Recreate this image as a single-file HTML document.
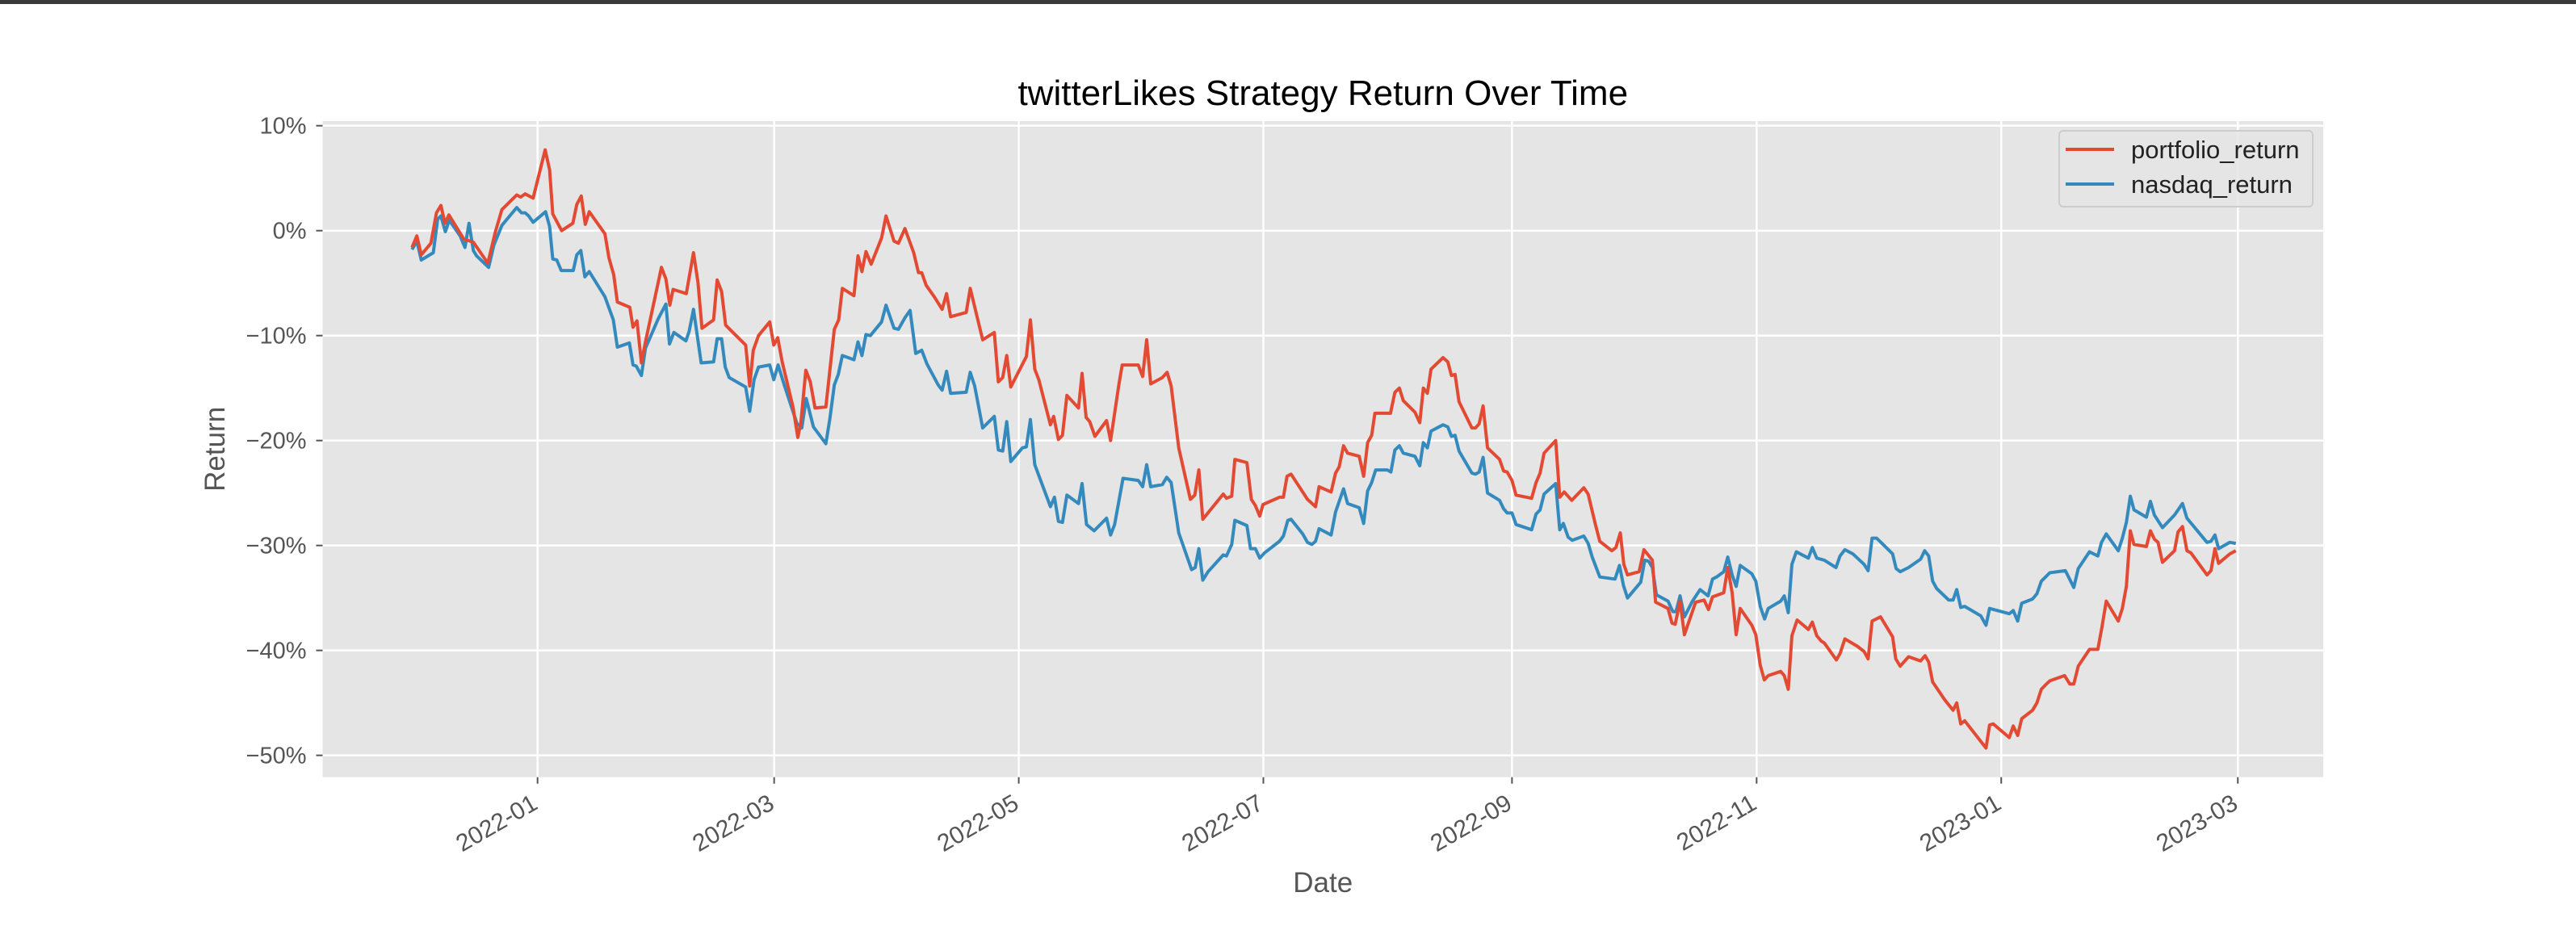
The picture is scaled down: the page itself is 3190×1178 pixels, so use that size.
<!DOCTYPE html>
<html><head><meta charset="utf-8"><style>
html,body{margin:0;padding:0;background:#fff;}
#wrap{position:relative;width:3190px;height:1178px;overflow:hidden;}
#topbar{position:absolute;left:0;top:0;width:3190px;height:5px;background:#3a3a3a;}
svg{position:absolute;left:0;top:0;}
text{font-family:"Liberation Sans",sans-serif;}
</style></head><body>
<div id="wrap">
<div id="topbar"></div>
<svg id="chart" width="3190" height="1178"></svg>
</div>
<script>
const xTickLabels = ["2022-01","2022-03","2022-05","2022-07","2022-09","2022-11","2023-01","2023-03"];
const xTickDays = [0,59,120,181,243,304,365,424];
const yTickValues = [10,0,-10,-20,-30,-40,-50];
const seriesNames = ["portfolio_return","nasdaq_return"];
const portfolioDays = [-31.3,-30.1,-29.0,-26.6,-25.2,-24.1,-23.1,-22.1,-18.4,-16.0,-12.4,-10.5,-8.9,-5.2,-4.2,-3.1,-1.1,1.9,3.0,3.8,6.0,8.8,9.8,10.9,11.9,12.9,16.8,17.8,19.0,19.9,23.0,23.8,24.8,25.9,26.9,30.9,32.0,33.0,33.8,37.1,38.9,40.0,41.0,43.9,44.8,45.9,46.9,48.2,51.9,52.9,53.8,55.1,57.9,58.9,59.9,61.0,63.7,64.9,65.7,66.9,68.0,69.2,71.9,74.0,75.1,76.0,78.9,79.9,80.9,81.9,83.2,85.8,86.9,88.9,90.0,91.6,93.8,95.0,95.8,96.9,99.1,100.9,102.0,103.0,106.9,107.9,109.8,111.0,113.9,114.9,116.0,117.0,118.0,121.9,122.9,124.0,125.0,127.9,128.7,129.9,130.9,132.0,134.9,135.8,136.8,137.7,139.0,141.9,142.9,145.0,145.8,149.8,150.9,151.9,152.9,155.8,157.0,158.0,159.9,162.8,163.9,164.9,165.9,171.0,171.8,173.1,173.9,176.9,178.0,179.0,180.1,180.9,185.0,186.0,186.9,187.9,192.0,194.0,194.9,197.9,199.0,199.9,201.0,202.0,204.9,206.0,207.0,208.0,208.8,212.7,213.8,214.9,215.9,218.8,220.0,220.9,221.9,222.8,225.8,227.0,227.9,228.8,229.8,233.0,233.9,234.8,235.8,236.9,239.9,240.9,241.8,243.0,244.0,247.9,249.0,250.0,251.0,253.9,254.9,256.0,257.9,260.9,262.0,263.8,264.9,267.9,268.9,270.0,270.9,271.8,274.7,275.9,278.0,278.8,281.9,282.9,283.7,284.9,286.0,288.8,290.9,292.0,293.0,295.8,296.8,297.9,298.9,299.9,302.8,303.8,304.9,305.9,306.9,310.0,310.9,311.9,312.8,314.1,316.9,317.9,319.0,320.1,320.9,323.9,324.8,326.0,329.1,330.8,331.8,332.8,334.9,337.9,338.7,339.8,341.9,344.9,346.0,346.9,347.9,350.9,353.0,353.9,354.9,355.9,361.2,362.1,363.0,367.0,368.0,369.1,370.1,372.8,373.9,375.0,376.0,377.1,380.8,382.1,383.1,384.2,387.0,389.1,390.1,391.2,394.2,395.2,396.2,397.2,398.1,401.2,402.2,403.2,404.1,405.2,408.2,409.1,410.2,411.3,412.3,416.3,417.3,418.3,419.2,422.0,423.5];
const portfolioValues = [-1.6,-0.5,-2.3,-1.2,1.7,2.4,0.7,1.5,-0.8,-1.1,-3.1,-0.1,2.0,3.4,3.2,3.5,3.1,7.7,5.8,1.6,0.0,0.7,2.5,3.3,0.6,1.8,-0.3,-2.6,-4.2,-6.8,-7.3,-9.2,-8.6,-12.6,-10.6,-3.5,-4.6,-7.1,-5.6,-6.0,-2.1,-4.9,-9.3,-8.5,-4.7,-5.8,-9.0,-9.5,-10.9,-14.8,-11.4,-10.0,-8.7,-10.9,-10.2,-12.5,-16.8,-19.7,-18.2,-13.3,-14.4,-16.9,-16.8,-9.4,-8.5,-5.5,-6.2,-2.4,-3.9,-2.0,-3.2,-0.7,1.4,-1.0,-1.2,0.2,-2.1,-4.0,-4.0,-5.2,-6.4,-7.5,-6.0,-8.2,-7.8,-5.5,-8.5,-10.4,-9.7,-14.4,-14.0,-11.9,-14.9,-12.0,-8.5,-13.2,-14.2,-18.5,-17.7,-19.9,-19.5,-15.7,-16.9,-13.6,-17.8,-18.2,-19.6,-18.1,-20.0,-14.6,-12.8,-12.8,-13.9,-10.4,-14.6,-14.0,-13.5,-14.8,-20.7,-25.6,-25.2,-22.8,-27.5,-25.1,-25.5,-25.3,-21.8,-22.1,-25.6,-26.2,-27.2,-26.1,-25.4,-25.4,-23.4,-23.2,-25.6,-26.3,-24.4,-24.9,-23.1,-22.5,-20.5,-21.2,-21.5,-23.4,-20.2,-19.5,-17.4,-17.4,-15.4,-15.0,-16.2,-17.3,-18.3,-15.0,-15.5,-13.2,-12.1,-12.5,-13.8,-13.7,-16.3,-18.8,-18.8,-18.4,-16.7,-20.7,-21.8,-22.9,-23.0,-23.8,-25.2,-25.5,-24.0,-23.1,-21.2,-20.0,-25.4,-24.9,-25.7,-24.5,-25.1,-28.0,-29.6,-30.5,-30.2,-28.8,-31.8,-32.8,-32.5,-30.4,-31.4,-35.4,-36.0,-37.4,-37.5,-35.3,-38.5,-35.4,-35.2,-36.1,-34.9,-34.5,-32.1,-34.5,-38.5,-36.0,-37.6,-38.5,-41.4,-42.8,-42.4,-42.0,-42.4,-43.7,-38.6,-37.1,-38.0,-37.3,-38.6,-39.1,-39.3,-40.9,-40.3,-38.9,-39.6,-40.1,-40.8,-37.2,-36.8,-38.7,-40.8,-41.5,-40.6,-41.0,-40.5,-41.1,-43.0,-44.7,-45.7,-45.0,-47.0,-46.7,-49.3,-47.1,-47.0,-48.3,-47.2,-48.1,-46.5,-45.7,-45.0,-43.7,-43.3,-42.9,-42.4,-43.2,-43.2,-41.5,-39.9,-39.9,-37.8,-35.3,-37.2,-36.0,-33.9,-28.6,-29.9,-30.1,-28.6,-29.4,-29.7,-31.6,-30.5,-28.7,-28.2,-30.5,-30.7,-32.8,-32.4,-30.3,-31.7,-30.8,-30.5];
const nasdaqDays = [-31.3,-30.1,-29.0,-26.0,-24.9,-24.1,-23.0,-22.0,-19.3,-18.1,-17.1,-16.0,-15.2,-12.2,-10.9,-8.9,-5.2,-4.0,-3.1,-2.2,-1.1,2.0,3.0,3.8,4.8,5.9,8.9,9.8,10.8,11.8,12.9,16.8,18.9,19.9,22.9,23.8,24.6,25.9,26.9,30.1,32.0,32.9,34.0,37.0,37.8,38.9,40.8,43.9,44.8,45.9,46.8,47.8,51.9,52.9,54.0,55.1,57.9,58.9,60.0,61.6,64.7,65.9,67.0,68.8,71.9,72.9,74.0,75.0,76.0,78.9,79.9,80.9,81.9,83.0,85.8,86.9,88.9,90.0,91.6,92.9,94.3,95.8,97.1,99.9,100.9,102.0,103.0,106.9,107.9,109.0,111.0,113.9,114.9,116.0,117.0,118.0,120.9,121.9,122.9,124.0,127.9,128.9,129.9,130.9,132.0,134.9,135.8,136.9,138.8,141.9,142.9,143.9,146.0,149.8,150.9,151.9,152.9,155.8,156.9,158.0,159.9,163.1,164.0,164.9,165.9,167.2,171.0,171.8,173.1,173.9,176.9,177.8,179.0,180.1,181.3,185.0,186.0,187.1,187.9,190.8,192.0,193.1,194.0,194.9,197.9,199.0,201.0,202.0,204.9,206.0,207.0,208.0,209.0,211.9,212.8,213.8,214.9,215.9,218.8,220.0,220.9,221.9,222.8,225.8,227.0,227.9,228.8,229.8,233.0,233.9,234.8,235.8,236.9,239.9,240.9,241.8,243.0,244.0,247.9,249.0,250.0,251.0,253.9,254.9,255.8,257.0,258.0,260.9,262.0,263.0,264.9,268.7,269.8,270.8,271.8,275.1,276.1,277.1,278.0,279.0,281.9,283.1,283.9,284.9,286.0,288.0,289.9,291.9,293.0,294.0,295.8,296.8,297.9,298.9,299.9,302.8,303.8,304.9,306.0,306.9,310.0,310.9,311.9,312.8,313.9,316.9,317.9,319.0,320.9,323.8,324.8,326.0,328.0,330.8,331.8,332.8,333.9,335.0,337.9,338.8,339.8,341.9,344.9,345.9,346.9,347.9,348.9,351.9,353.0,353.9,354.9,355.9,359.9,361.2,362.1,367.0,368.0,369.1,370.1,372.8,373.9,375.0,377.1,381.0,383.1,384.2,387.0,389.1,390.0,391.2,394.2,395.2,396.2,397.2,398.1,401.2,402.2,403.2,405.2,408.2,410.2,411.3,416.3,417.3,418.3,419.2,422.0,423.5];
const nasdaqValues = [-1.8,-1.0,-2.8,-2.1,1.1,1.4,-0.1,1.0,-0.5,-1.6,0.7,-1.9,-2.4,-3.5,-1.4,0.5,2.2,1.7,1.7,1.4,0.8,1.8,0.4,-2.7,-2.8,-3.8,-3.8,-2.3,-1.9,-4.4,-3.9,-6.3,-8.5,-11.1,-10.7,-12.8,-12.9,-13.8,-11.2,-8.4,-7.0,-10.8,-9.7,-10.5,-9.6,-7.5,-12.6,-12.5,-10.3,-10.3,-13.0,-14.0,-14.9,-17.2,-14.2,-13.0,-12.8,-14.2,-12.8,-14.8,-18.4,-18.8,-16.0,-18.7,-20.3,-17.9,-14.7,-13.7,-11.9,-12.3,-10.6,-11.9,-9.9,-10.0,-8.7,-7.1,-9.3,-9.4,-8.3,-7.6,-11.7,-11.4,-12.7,-14.7,-15.2,-13.4,-15.5,-15.4,-13.5,-14.8,-18.8,-17.7,-20.9,-21.0,-18.2,-22.0,-20.7,-20.6,-18.0,-22.3,-26.3,-25.4,-27.7,-27.8,-25.2,-26.0,-24.1,-28.0,-28.6,-27.4,-29.0,-28.0,-23.6,-23.8,-24.4,-22.3,-24.4,-24.2,-23.5,-24.0,-28.8,-32.3,-32.1,-30.3,-33.3,-32.5,-30.9,-31.0,-29.9,-27.6,-28.1,-30.3,-30.3,-31.2,-30.7,-29.6,-29.1,-27.6,-27.5,-28.9,-29.7,-29.9,-29.6,-28.4,-29.0,-26.8,-24.6,-26.0,-26.4,-27.9,-24.8,-24.0,-22.8,-22.8,-23.0,-20.9,-20.5,-21.2,-21.5,-22.4,-20.2,-20.7,-19.1,-18.5,-18.7,-19.6,-19.5,-21.0,-23.1,-23.2,-23.0,-21.6,-25.0,-25.7,-26.5,-26.9,-26.9,-28.0,-28.5,-27.0,-26.6,-25.1,-24.1,-28.5,-27.9,-29.2,-29.5,-29.1,-29.8,-31.1,-33.0,-33.2,-31.9,-33.8,-35.0,-33.5,-31.4,-31.5,-32.1,-34.7,-35.3,-36.3,-36.3,-34.8,-36.8,-35.3,-34.2,-34.8,-33.2,-33.0,-32.5,-31.1,-32.8,-33.9,-31.9,-32.7,-33.4,-35.8,-37.0,-36.0,-35.3,-34.8,-36.4,-31.8,-30.6,-31.2,-30.2,-31.2,-31.4,-32.1,-31.0,-30.4,-30.8,-31.8,-32.4,-29.3,-29.3,-29.7,-30.8,-32.2,-32.5,-32.1,-31.3,-30.5,-31.0,-33.4,-34.1,-35.2,-35.2,-34.2,-35.9,-35.8,-36.7,-37.6,-36.0,-36.5,-36.2,-37.2,-35.5,-35.1,-34.6,-33.4,-32.6,-32.4,-34.0,-32.2,-30.6,-31.0,-29.7,-28.9,-30.5,-29.3,-27.8,-25.3,-26.6,-27.3,-25.8,-27.1,-28.3,-27.1,-26.0,-27.4,-29.7,-29.6,-29.0,-30.3,-29.7,-29.8];

const NS = "http://www.w3.org/2000/svg";
const svg = document.getElementById("chart");
const L = 399.5, R = 2877, T = 150, B = 962.7;
const dayMin = -53.6, dayMax = 445.3, vMin = -52.08, vMax = 10.44;
function xs(d){ return L + (d - dayMin) / (dayMax - dayMin) * (R - L); }
function ys(v){ return B - (v - vMin) / (vMax - vMin) * (B - T); }
function mk(tag, attrs, parent){
  const e = document.createElementNS(NS, tag);
  for (const k in attrs) e.setAttribute(k, attrs[k]);
  (parent || svg).appendChild(e);
  return e;
}

const bg = mk("rect", {x:L, y:T, width:R-L, height:B-T, fill:"#e5e5e5"});



yTickValues.forEach(v => {
  const y = ys(v);
  const g = mk("line", {x1:L, x2:R, y1:y, y2:y, stroke:"#fff", "stroke-width":2.5});
  
  
  const t = mk("line", {x1:L-8, x2:L, y1:y, y2:y, stroke:"#555", "stroke-width":2});
  
  
  const lb = mk("text", {x:L-20, y:y+10, "text-anchor":"end", "font-size":29, fill:"#555"});
  lb.textContent = (v < 0 ? "\u2212" + Math.abs(v) : v) + "%";
  
  
});

xTickDays.forEach((d, i) => {
  const x = xs(d);
  const g = mk("line", {x1:x, x2:x, y1:T, y2:B, stroke:"#fff", "stroke-width":2.5});
  
  
  const t = mk("line", {x1:x, x2:x, y1:B, y2:B+8, stroke:"#555", "stroke-width":2});
  
  
  const ax = x + 2, ay = B + 38;
  const lb = mk("text", {x:ax, y:ay, "text-anchor":"end", "font-size":30, fill:"#555",
    transform:"rotate(-30 " + ax + " " + ay + ")"});
  lb.textContent = xTickLabels[i];
  
  
});

function drawLine(days, vals, color, name){
  let d = "";
  for (let i = 0; i < days.length; i++) d += (i ? "L" : "M") + xs(days[i]).toFixed(1) + "," + ys(vals[i]).toFixed(1);
  const p = mk("path", {d:d, fill:"none", stroke:color, "stroke-width":4, "stroke-linejoin":"round"});
  
  
}
drawLine(nasdaqDays, nasdaqValues, "#348ABD", "nasdaq-return-line");
drawLine(portfolioDays, portfolioValues, "#E24A33", "portfolio-return-line");

const title = mk("text", {x:(L+R)/2, y:130, "text-anchor":"middle", "font-size":44, fill:"#000"});
title.textContent = "twitterLikes Strategy Return Over Time";



const xl = mk("text", {x:(L+R)/2, y:1105, "text-anchor":"middle", "font-size":35, fill:"#555"});
xl.textContent = "Date";



const yl = mk("text", {x:278, y:(T+B)/2, "text-anchor":"middle", "font-size":35, fill:"#555",
  transform:"rotate(-90 278 " + ((T+B)/2) + ")"});
yl.textContent = "Return";



const lg = mk("g", {});


mk("rect", {x:2550, y:162, width:314, height:94, rx:5, fill:"#e5e5e5", "fill-opacity":0.8, stroke:"#cccccc", "stroke-width":2}, lg);
const colors = ["#E24A33", "#348ABD"];
seriesNames.forEach((n, i) => {
  const y = 185 + i * 43;
  const e = mk("g", {}, lg);
  
  
  mk("line", {x1:2558, x2:2618, y1:y, y2:y, stroke:colors[i], "stroke-width":4}, e);
  const t = mk("text", {x:2639, y:y+11, "font-size":31, fill:"#222"}, e);
  t.textContent = n;
});
</script>
</body></html>
